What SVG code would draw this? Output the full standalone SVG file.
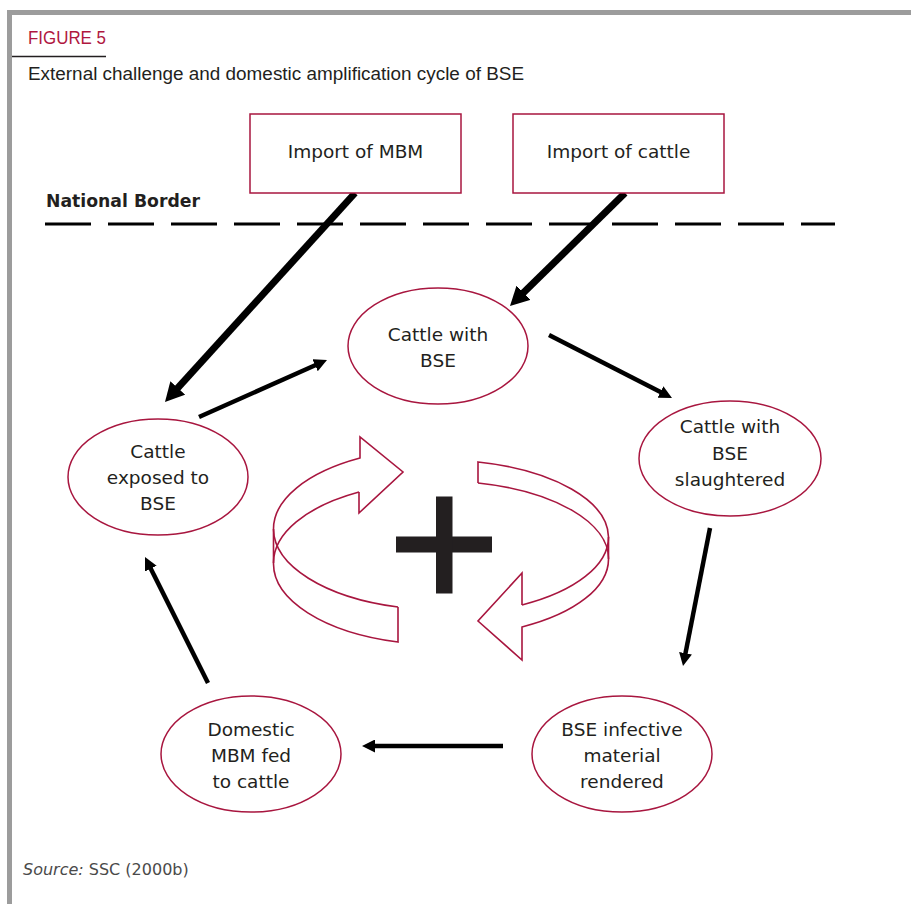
<svg xmlns="http://www.w3.org/2000/svg" width="911" height="904" viewBox="0 0 911 904">
  <style>
    .frame { fill: #9c9c9c; }
    .box { fill: #ffffff; stroke: #a8163f; stroke-width: 1.5; }
    .node { fill: #ffffff; stroke: #a8163f; stroke-width: 1.5; }
    .label { font-family: "DejaVu Sans", "Liberation Sans", sans-serif; font-size: 18.5px; fill: #231f20; text-anchor: middle; }
    .thick { stroke: #000000; stroke-width: 7; fill: none; }
    .thin { stroke: #000000; stroke-width: 4.5; fill: none; }
    .cycle { fill: none; stroke: #a8163f; stroke-width: 1.6; stroke-linejoin: miter; }
  </style>
  <defs>
    <marker id="headThick" markerUnits="userSpaceOnUse" viewBox="0 0 19 20" markerWidth="19" markerHeight="20" refX="7" refY="10" orient="auto">
      <path d="M0,0 L19,10 L0,20 z" fill="#000000"/>
    </marker>
    <marker id="headThin" markerUnits="userSpaceOnUse" viewBox="0 0 13 13" markerWidth="13" markerHeight="13" refX="5" refY="6.5" orient="auto">
      <path d="M0,0 L13,6.5 L0,13 z" fill="#000000"/>
    </marker>
  </defs>

  <rect width="911" height="904" fill="#ffffff"/>

  <!-- page frame -->
  <rect class="frame" x="7" y="10" width="904" height="5"/>
  <rect class="frame" x="7" y="10" width="5" height="894"/>

  <!-- heading -->
  <text x="28" y="44" font-family="Liberation Sans, Arial, sans-serif" font-size="18.5" fill="#b0173f" textLength="78" lengthAdjust="spacingAndGlyphs">FIGURE 5</text>
  <line x1="12" y1="56.5" x2="106" y2="56.5" stroke="#231f20" stroke-width="1.6"/>
  <text x="28" y="80" font-family="Liberation Sans, Arial, sans-serif" font-size="17.5" fill="#231f20" textLength="496" lengthAdjust="spacingAndGlyphs">External challenge and domestic amplification cycle of BSE</text>

  <!-- border -->
  <text x="46" y="207" font-family="DejaVu Sans, Liberation Sans, sans-serif" font-size="18" font-weight="bold" fill="#231f20" textLength="154" lengthAdjust="spacingAndGlyphs">National Border</text>
  <line x1="45" y1="224" x2="835" y2="224" stroke="#000000" stroke-width="3" stroke-dasharray="46 17"/>

  <!-- connectors -->
  <g id="connectors">
    <line class="thick" x1="355" y1="193" x2="173.07" y2="393.12" marker-end="url(#headThick)"/>
    <line class="thick" x1="625" y1="193" x2="518.56" y2="297.59" marker-end="url(#headThick)"/>
    <line class="thin" x1="199" y1="417" x2="319.69" y2="363.25" marker-end="url(#headThin)"/>
    <line class="thin" x1="549" y1="335" x2="664.88" y2="394.35" marker-end="url(#headThin)"/>
    <line class="thin" x1="710" y1="528" x2="684.54" y2="658.15" marker-end="url(#headThin)"/>
    <line class="thin" x1="503" y1="746" x2="370" y2="746" marker-end="url(#headThin)"/>
    <line class="thin" x1="208" y1="683" x2="148.58" y2="564.16" marker-end="url(#headThin)"/>
  </g>

  <!-- import boxes -->
  <g id="import-mbm">
    <rect class="box" x="250" y="114" width="211" height="79"/>
    <text class="label" x="355.5" y="158">Import of MBM</text>
  </g>
  <g id="import-cattle">
    <rect class="box" x="513" y="114" width="211" height="79"/>
    <text class="label" x="618.5" y="158">Import of cattle</text>
  </g>

  <!-- cycle nodes -->
  <g id="cattle-with-bse">
    <ellipse class="node" cx="438" cy="346" rx="90" ry="58"/>
    <text class="label" x="438" y="341">Cattle with</text>
    <text class="label" x="438" y="367">BSE</text>
  </g>
  <g id="cattle-slaughtered">
    <ellipse class="node" cx="730" cy="458.5" rx="91" ry="57.5"/>
    <text class="label" x="730" y="433">Cattle with</text>
    <text class="label" x="730" y="460">BSE</text>
    <text class="label" x="730" y="486">slaughtered</text>
  </g>
  <g id="material-rendered">
    <ellipse class="node" cx="622" cy="754" rx="90" ry="58"/>
    <text class="label" x="622" y="736">BSE infective</text>
    <text class="label" x="622" y="762">material</text>
    <text class="label" x="622" y="788">rendered</text>
  </g>
  <g id="domestic-mbm">
    <ellipse class="node" cx="251" cy="754" rx="90" ry="58"/>
    <text class="label" x="251" y="736">Domestic</text>
    <text class="label" x="251" y="762">MBM fed</text>
    <text class="label" x="251" y="788">to cattle</text>
  </g>
  <g id="cattle-exposed">
    <ellipse class="node" cx="158" cy="477" rx="90" ry="58"/>
    <text class="label" x="158" y="458">Cattle</text>
    <text class="label" x="158" y="484">exposed to</text>
    <text class="label" x="158" y="510">BSE</text>
  </g>

  <!-- amplification symbol: ribbon arrows around a plus -->
  <g id="amplification">
    <path class="cycle" d="M398,607 L398,642 A167.5,81 0 0 1 273.5,563 L273.5,529 A167.5,81 0 0 1 360,458 L360,437 L403,472 L359,513 L359,492"/>
    <path class="cycle" d="M359,492 A167.5,81 0 0 0 273.5,563"/>
    <path class="cycle" d="M398,607 A167.5,81 0 0 1 273.5,529"/>
    <path class="cycle" d="M478,483 L478,462 A167.5,77.5 0 0 1 608.5,537 L608.5,559 A167.5,77.5 0 0 1 522,627 L522,660 L478,621 L522,573 L522,605"/>
    <path class="cycle" d="M478,483 A167.5,77.5 0 0 1 608.5,559"/>
    <path class="cycle" d="M522,605 A167.5,77.5 0 0 0 608.5,537"/>
    <rect x="396" y="536.5" width="96" height="16" fill="#231f20"/>
    <rect x="436" y="496.5" width="16.5" height="97" fill="#231f20"/>
  </g>

  <!-- source line -->
  <text x="23" y="875" font-family="DejaVu Sans, Liberation Sans, sans-serif" font-size="16" fill="#4a4a4a"><tspan font-style="italic">Source:</tspan> SSC (2000b)</text>
</svg>
